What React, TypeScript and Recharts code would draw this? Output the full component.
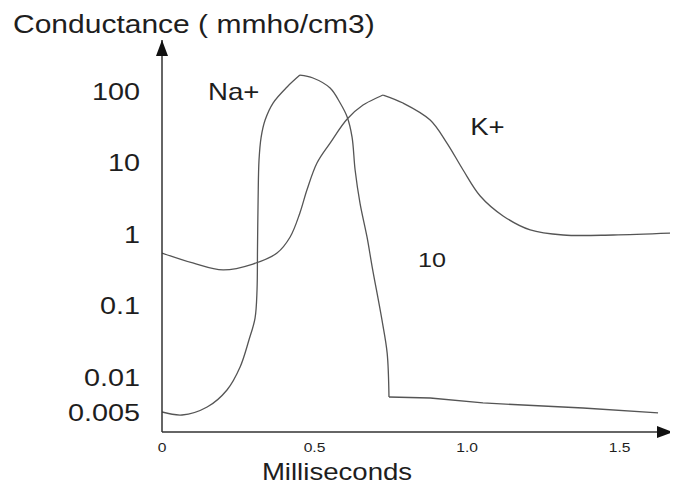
import React from 'react';
import { LineChart, Line, XAxis, YAxis, ReferenceDot } from 'recharts';

// Time (ms) and conductance (mmho/cm3) samples along each trace
const naRise: [number, number][] = [
  [0, 0.00324], [0.0656, 0.00294], [0.148, 0.0038], [0.213, 0.00658], [0.256, 0.0138],
  [0.285, 0.0329], [0.305, 0.0668], [0.3115, 0.165], [0.313, 0.597], [0.315, 2.99],
  [0.318, 10.8], [0.325, 22.7], [0.338, 39.3], [0.364, 67.9], [0.41, 114], [0.452, 167],
];
const naFall: [number, number][] = [
  [0.452, 167], [0.495, 152], [0.551, 110], [0.584, 67.9], [0.607, 43.3], [0.623, 22.7],
  [0.633, 7.86], [0.649, 2.71], [0.672, 0.908], [0.689, 0.345], [0.721, 0.0627],
  [0.738, 0.0217], [0.744, 0.00525],
];
const naTail: [number, number][] = [
  [0.744, 0.00525], [0.879, 0.00508], [1.052, 0.00433], [1.38, 0.00368], [1.626, 0.00314],
];
const kRise: [number, number][] = [
  [0, 0.542], [0.101, 0.393], [0.2, 0.314], [0.298, 0.38], [0.377, 0.542], [0.42, 0.908],
  [0.452, 1.97], [0.475, 4.12], [0.508, 9.84], [0.551, 18.7], [0.607, 40.6], [0.659, 63.7],
  [0.725, 87.9],
];
const kFall: [number, number][] = [
  [0.725, 87.9], [0.79, 67.9], [0.879, 39.3], [0.934, 18.7], [0.987, 7.86], [1.043, 3.4],
  [1.118, 1.79], [1.207, 1.14], [1.315, 0.968], [1.479, 0.968], [1.675, 1.03],
];

const timeTicks = [0, 0.5, 1.0, 1.5];
const conductanceTicks = [0.005, 0.01, 0.1, 1, 10, 100];

const annotations: { t: number; g: number; text: string; size: number }[] = [
  { t: 0.151, g: 74.8, text: 'Na+', size: 23 },
  { t: 1.01, g: 24.3, text: 'K+', size: 23 },
  { t: 0.839, g: 0.345, text: '10', size: 21 },
];

const toRows = (pts: [number, number][]) => pts.map(([t, g]) => ({ t, g }));

const FONT = '"Liberation Sans", Arial, sans-serif';
const INK = '#1e1e1e';
const TRACE = '#555';
const STRETCH = 1.2;

// Centripetal Catmull-Rom curve (alpha = 0.5): passes through every sample,
// stays smooth on near-vertical stretches and does not overshoot.
function centripetalCurve(context: any) {
  let pts: [number, number][] = [];
  const flush = () => {
    const n = pts.length;
    if (n === 0) return;
    context.moveTo(pts[0][0], pts[0][1]);
    if (n === 1) return;
    const eps = 1e-9;
    for (let i = 0; i < n - 1; i++) {
      const p0 = pts[Math.max(0, i - 1)];
      const p1 = pts[i];
      const p2 = pts[i + 1];
      const p3 = pts[Math.min(n - 1, i + 2)];
      const l01 = Math.hypot(p1[0] - p0[0], p1[1] - p0[1]);
      const l12 = Math.hypot(p2[0] - p1[0], p2[1] - p1[1]);
      const l23 = Math.hypot(p3[0] - p2[0], p3[1] - p2[1]);
      const l01a = Math.sqrt(l01), l12a = Math.sqrt(l12), l23a = Math.sqrt(l23);
      let c1x = p1[0], c1y = p1[1], c2x = p2[0], c2y = p2[1];
      if (l01a > eps) {
        const a = 2 * l01 + 3 * l01a * l12a + l12;
        const m = 3 * l01a * (l01a + l12a);
        c1x = (p1[0] * a - p0[0] * l12 + p2[0] * l01) / m;
        c1y = (p1[1] * a - p0[1] * l12 + p2[1] * l01) / m;
      }
      if (l23a > eps) {
        const b = 2 * l23 + 3 * l23a * l12a + l12;
        const m = 3 * l23a * (l23a + l12a);
        c2x = (p2[0] * b + p1[0] * l23 - p3[0] * l12) / m;
        c2y = (p2[1] * b + p1[1] * l23 - p3[1] * l12) / m;
      }
      context.bezierCurveTo(c1x, c1y, c2x, c2y, p2[0], p2[1]);
    }
  };
  return {
    areaStart() {},
    areaEnd() {},
    lineStart() { pts = []; },
    lineEnd() { flush(); },
    point(x: number, y: number) { pts.push([+x, +y]); },
  };
}

function WideText(props: {
  x: number; y: number; anchor?: 'start' | 'middle' | 'end'; size: number; dy?: string;
  children: React.ReactNode;
}) {
  const { x, y, anchor = 'start', size, dy, children } = props;
  return (
    <text
      transform={`translate(${x} ${y}) scale(${STRETCH} 1)`}
      x={0}
      y={0}
      dy={dy}
      textAnchor={anchor}
      fontSize={size}
      fontFamily={FONT}
      fill={INK}
    >
      {children}
    </text>
  );
}

// The lowest label sits a little below its gridline so it clears "0.01".
const YTick = (p: any) => {
  const v = p.payload.value as number;
  const shift = v === conductanceTicks[0] ? 14 : 0;
  return (
    <WideText x={p.x} y={p.y + shift} anchor="end" size={24} dy="0.36em">
      {String(v)}
    </WideText>
  );
};

const XTick = (p: any) => {
  const v = p.payload.value as number;
  return (
    <WideText x={p.x} y={p.y} anchor="middle" size={13} dy="0.72em">
      {v === 0 ? '0' : v.toFixed(1)}
    </WideText>
  );
};

const traceProps = {
  dataKey: 'g',
  stroke: TRACE,
  strokeWidth: 1.3,
  dot: false,
  activeDot: false,
  isAnimationActive: false,
} as const;

export default function App() {
  return (
    <LineChart
      width={670}
      height={476}
      margin={{ top: 32, right: 5, bottom: 12, left: 0 }}
      style={{ background: '#fff' }}
    >
      <defs>
        <marker
          id="axisArrow"
          viewBox="0 0 16 12"
          markerUnits="userSpaceOnUse"
          markerWidth={16}
          markerHeight={12}
          refX={16}
          refY={6}
          orient="auto-start-reverse"
        >
          <path d="M0,0 L16,6 L0,12 Z" fill="#111" />
        </marker>
      </defs>
      <XAxis
        dataKey="t"
        type="number"
        domain={[0, 1.675]}
        ticks={timeTicks}
        interval={0}
        tickSize={0}
        tickMargin={11}
        tick={XTick}
        height={40}
        axisLine={{ stroke: '#333', strokeWidth: 1.5, markerEnd: 'url(#axisArrow)' }}
        allowDataOverflow
      />
      <YAxis
        dataKey="g"
        type="number"
        scale="log"
        domain={[0.0017, 517]}
        ticks={conductanceTicks}
        interval={0}
        tickSize={0}
        tickMargin={22}
        tick={YTick}
        width={154}
        axisLine={{ stroke: '#333', strokeWidth: 1.5, markerStart: 'url(#axisArrow)' }}
        allowDataOverflow
      />
      <Line data={toRows(naRise)} type={centripetalCurve as any} {...traceProps} />
      <Line data={toRows(naFall)} type={centripetalCurve as any} {...traceProps} />
      <Line data={toRows(naTail)} type="linear" {...traceProps} />
      <Line data={toRows(kRise)} type={centripetalCurve as any} {...traceProps} />
      <Line data={toRows(kFall)} type={centripetalCurve as any} {...traceProps} />
      {annotations.map((a) => (
        <ReferenceDot
          key={a.text}
          x={a.t}
          y={a.g}
          r={0}
          shape={(p: any) => (
            <WideText x={p.cx} y={p.cy} size={a.size}>
              {a.text}
            </WideText>
          )}
        />
      ))}
      <WideText x={5} y={25} size={25}>
        Conductance ( mmho/cm3)
      </WideText>
      <WideText x={329} y={472} anchor="middle" size={23}>
        Milliseconds
      </WideText>
    </LineChart>
  );
}
